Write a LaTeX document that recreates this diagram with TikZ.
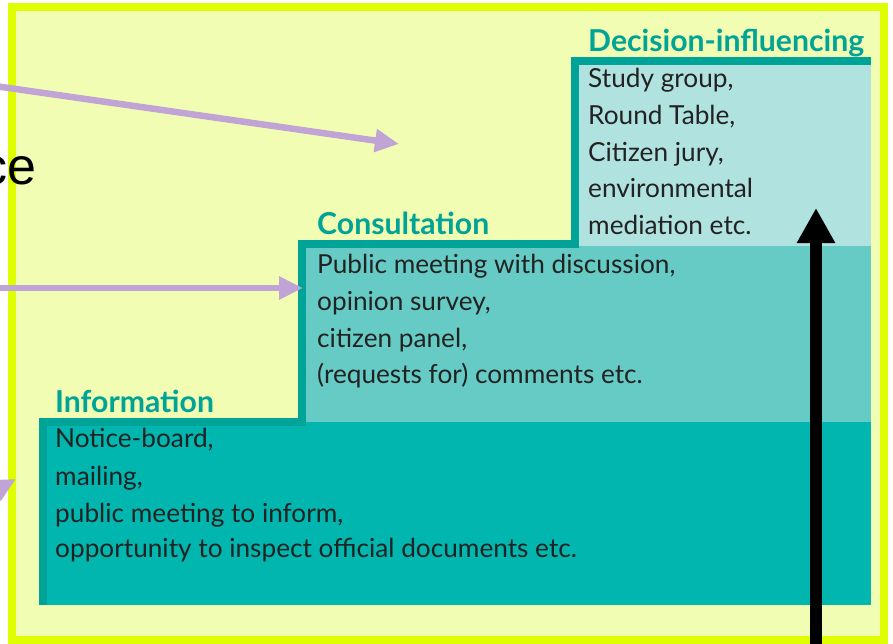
\documentclass[tikz,border=0pt]{standalone}
\usepackage{fontspec}
\setmainfont{Lato}
\newfontfamily\arialfont{Liberation Sans}
\usetikzlibrary{arrows.meta}
\definecolor{frameyellow}{HTML}{DFFF00}
\definecolor{paleyellow}{HTML}{F2FDB4}
\definecolor{tealdark}{HTML}{00A398}
\definecolor{tealmid}{HTML}{00B6AF}
\definecolor{teallight}{HTML}{66CBC4}
\definecolor{tealpale}{HTML}{B0E2DF}
\definecolor{titleteal}{HTML}{00A396}
\definecolor{arrowpurple}{HTML}{C0A4D6}
\definecolor{bodygray}{HTML}{222222}
\begin{document}
\begin{tikzpicture}[x=1pt,y=-1pt,
  titletext/.style={anchor=base west, inner sep=0pt, text=titleteal, font=\fontsize{30.2}{31}\selectfont\bfseries},
  bodytext/.style={anchor=base west, inner sep=0pt, text=bodygray, font=\fontsize{26.2}{30}\selectfont},
  purplearrow/.style={draw=arrowpurple, line width=6.5pt, -{Triangle[length=24pt,width=22pt]}},
  blackarrow/.style={draw=black, line width=12pt, -{Triangle[length=35pt,width=36pt]}},
]
\useasboundingbox (0,0) rectangle (893,644);
% frame
\draw[draw=frameyellow, fill=paleyellow, line width=8pt] (12,7) rectangle (884,640);
% fills
\fill[tealmid] (43,422) rectangle (871,605);
\fill[teallight] (302,244) rectangle (871,422);
\fill[tealpale] (575,61) rectangle (871,246);
% stair edge
\draw[tealdark, line width=8pt] (43,605) -- (43,422) -- (302,422) -- (302,244) -- (575,244) -- (575,61) -- (871,61);
% titles
\node[titletext] (tinfo) at (55,412) {Information};
\node[titletext] (tcons) at (317,235) {Consultation};
\node[titletext] (tdec) at (588,52) {Decision-influencing};
% decision text
\node[bodytext] (d1) at (588,88) {Study group,};
\node[bodytext] (d2) at (588,125) {Round Table,};
\node[bodytext] (d3) at (588,162) {Citizen jury,};
\node[bodytext] (d4) at (588,198) {environmental};
\node[bodytext] (d5) at (588,234) {mediation etc.};
% consultation text
\node[bodytext] (c1) at (317,273) {Public meeting with discussion,};
\node[bodytext] (c2) at (317,310) {opinion survey,};
\node[bodytext] (c3) at (317,347) {citizen panel,};
\node[bodytext] (c4) at (317,383) {(requests for) comments etc.};
% information text
\node[bodytext] (i1) at (55,447) {Notice-board,};
\node[bodytext] (i2) at (55,485) {mailing,};
\node[bodytext] (i3) at (55,522) {public meeting to inform,};
\node[bodytext] (i4) at (55,557) {opportunity to inspect official documents etc.};
% partial word at left
\node[anchor=base east, inner sep=0pt, font=\arialfont\fontsize{52}{52}\selectfont] (ce) at (37,185) {ce};
% arrows
\coordinate (a1s) at (-40,81);
\coordinate (a1e) at (399,144);
\coordinate (a2s) at (-40,288);
\coordinate (a2e) at (303,288);
\coordinate (a3s) at (-80,532);
\coordinate (a3e) at (16,479);
\draw[purplearrow] (a1s) -- (a1e);
\draw[purplearrow] (a2s) -- (a2e);
\draw[purplearrow] (a3s) -- (a3e);
\coordinate (bs) at (816,660);
\coordinate (be) at (816,208);
\draw[blackarrow] (bs) -- (be);
\end{tikzpicture}
\end{document}
